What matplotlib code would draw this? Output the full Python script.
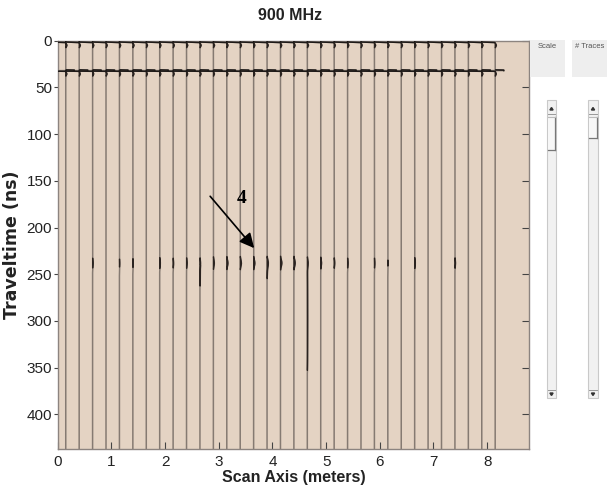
import numpy as np
import matplotlib
matplotlib.use("Agg")
import matplotlib.pyplot as plt
from matplotlib.patches import Rectangle, Polygon

# ---- survey geometry -------------------------------------------------------
trace_start = 0.15          # m, first trace position
trace_step = 0.25           # m, spacing between traces
n_traces = 33
trace_pos = trace_start + trace_step * np.arange(n_traces)

record_len = 437.0          # ns
dt = 0.05
t = np.arange(0.0, record_len + dt, dt)

# ---- events --------------------------------------------------------------
direct_time = 0.0           # ns, air/direct wave
ground_time = 32.0          # ns, ground reflection
target_time = 238.0         # ns, reflector marked "4"

# relative amplitude of the target reflection on each trace
target_amp = [0.0, 0.0, 0.30, 0.0, 0.20, 0.25, 0.0, 0.40, 0.30, 0.35,
              0.35, 0.60, 0.70, 0.75, 0.75, 0.80, 0.85, 0.80, 0.55, 0.50,
              0.35, 0.30, 0.0, 0.30, 0.15, 0.0, 0.40, 0.0, 0.0, 0.35,
              0.0, 0.0, 0.0]

# traces with a ringing tail below the reflector (trace index, end time in ns)
tail_trace = [10, 15, 18]
tail_end = [263.0, 255.0, 355.0]

# ---- labels ----------------------------------------------------------------
title = "900 MHz"
xlabel = "Scan Axis (meters)"
ylabel = "Traveltime (ns)"
xticks = [0, 1, 2, 3, 4, 5, 6, 7, 8]
yticks = [0, 50, 100, 150, 200, 250, 300, 350, 400]
x_max = 8.78
target_label = "4"

# ---- styling -----------------------------------------------------------------
bg_color = "#e4d3c3"
trace_color = "#857a72"
fill_color = "#2a2320"
narrow = ["Liberation Sans Narrow", "Liberation Sans", "DejaVu Sans"]

W, H = 608, 487
fig = plt.figure(figsize=(W / 100, H / 100), dpi=100)
fig.patch.set_facecolor("white")


def fx(x):
    return x / W


def fy(y):
    return 1 - y / H


ax = fig.add_axes([fx(57.7), fy(449.0), fx(529.0) - fx(57.7), fy(40.7) - fy(449.0)])
ax.set_facecolor(bg_color)


def pulse(tc, sigma):
    return np.exp(-((t - tc) / sigma) ** 2)


clip_lo, clip_hi = -0.25, 0.16
for k, x0 in enumerate(trace_pos):
    # strong shallow arrivals, clipped so they run across neighbouring traces
    direct = -6.0 * pulse(direct_time, 0.8)
    u = (t - ground_time) / 0.2
    ground = -4.0 * u * np.exp(-u ** 2 / 2)
    shallow = 0.022 * pulse(5.0, 1.8) + 0.02 * pulse(35.5, 1.8)

    refl = 0.03 * target_amp[k] * pulse(target_time, 5.0)
    tail = np.zeros_like(t)
    if k in tail_trace:
        te = tail_end[tail_trace.index(k)]
        m = (t > target_time + 2) & (t < te)
        tail[m] = 0.007 * np.sin(np.pi * (t[m] - target_time - 2) / (te - target_time - 2)) ** 0.3

    small = shallow + refl + tail
    strong = np.clip(direct + ground, clip_lo, clip_hi)
    sig = strong + small
    ax.plot(x0 + sig, t, color=trace_color, lw=1.1, solid_joinstyle="round", zorder=2)
    ax.fill_betweenx(t, x0, x0 + small, where=small > 0.003, color=fill_color,
                     lw=0.9, edgecolor=fill_color, interpolate=True, zorder=3)

    # the clipped arrivals drawn darker
    m = np.abs(strong) > 0.01
    seg = np.where(m, x0 + strong, np.nan)
    ax.plot(seg, t, color="#1e1a18", lw=1.1, zorder=4)

ax.set_xlim(0, x_max)
ax.set_ylim(record_len, 0)
ax.set_xticks(xticks)
ax.set_yticks(yticks)
ax.tick_params(axis="x", direction="in", length=5, width=0.8, colors="#444444",
               labelcolor="#222222", labelsize=11, pad=4)
ax.tick_params(axis="y", direction="out", length=3, width=0.8, colors="#444444",
               labelcolor="#222222", labelsize=11, pad=1, right=True)
for lab in ax.get_xticklabels() + ax.get_yticklabels():
    lab.set_family(narrow)
for side in ["left", "right", "bottom", "top"]:
    ax.spines[side].set_color("#8c8480")
    ax.spines[side].set_linewidth(1.0)
ax.yaxis.set_tick_params(which="major", right=True, labelright=False)
for tl in ax.yaxis.get_major_ticks():
    tl.tick2line.set_marker(matplotlib.lines.TICKLEFT)
    tl.tick2line.set_markersize(5)

ax.set_xlabel(xlabel, family=narrow, fontweight="bold", fontsize=11.5, labelpad=1,
              color="#222222")
ax.set_ylabel(ylabel, family="DejaVu Sans", fontweight="bold", fontsize=12.5, labelpad=4,
              color="#222222")
fig.text(fx(290), fy(15), title, family=narrow, fontweight="bold", fontsize=11.5,
         ha="center", va="center", color="#222222")

# target annotation
ax.annotate("", xy=(3.66, 222.0), xytext=(2.84, 166.5),
            arrowprops=dict(arrowstyle="-|>", color="black", lw=1.2,
                            mutation_scale=22, shrinkA=0, shrinkB=0), zorder=6)
ax.text(3.43, 169.0, target_label, family=["Liberation Serif", "DejaVu Serif"],
        fontweight="bold", fontsize=14, ha="center", va="center", zorder=6)

# ---- side controls ---------------------------------------------------------
def rect(x0, y0, x1, y1, **kw):
    r = Rectangle((fx(x0), fy(y1)), fx(x1) - fx(x0), fy(y0) - fy(y1),
                  transform=fig.transFigure, **kw)
    fig.add_artist(r)


def line(xs, ys, **kw):
    fig.add_artist(plt.Line2D([fx(v) for v in xs], [fy(v) for v in ys],
                              transform=fig.transFigure, **kw))


panels = [("Scale", 530, 565, 547, 556, 150), ("# Traces", 572, 607, 588, 598, 138)]
for name, bx0, bx1, sx0, sx1, thumb_end in panels:
    rect(bx0, 40, bx1, 77, facecolor="#eeeeee", edgecolor="none")
    fig.text(fx((bx0 + bx1) / 2), fy(47), name, family=narrow, fontsize=5.5,
             ha="center", va="center", color="#555555")
    rect(sx0, 100, sx1, 398, facecolor="#f1f1f1", edgecolor="#c9c9c9", lw=0.8)
    rect(sx0 + 1, 117, sx1 - 1, thumb_end, facecolor="#f7f7f7", edgecolor="none")
    line([sx0 + 1, sx1 - 1], [thumb_end, thumb_end], color="#777777", lw=0.9)
    line([sx1 - 1, sx1 - 1], [117, thumb_end], color="#777777", lw=0.9)
    line([sx0 + 1, sx1 - 1], [117, 117], color="#bbbbbb", lw=0.8)
    line([sx0 + 1, sx1 - 1], [114, 114], color="#999999", lw=0.7)
    line([sx0 + 1, sx1 - 1], [390, 390], color="#999999", lw=0.7)
    cx = (sx0 + sx1) / 2
    fig.add_artist(Polygon([(fx(cx - 1.6), fy(110)), (fx(cx + 1.6), fy(110)), (fx(cx), fy(107.5))],
                           closed=True, transform=fig.transFigure, color="#333333"))
    fig.add_artist(Polygon([(fx(cx - 1.6), fy(393)), (fx(cx + 1.6), fy(393)), (fx(cx), fy(395.5))],
                           closed=True, transform=fig.transFigure, color="#333333"))

fig.savefig("out.png", dpi=100, facecolor="white")
